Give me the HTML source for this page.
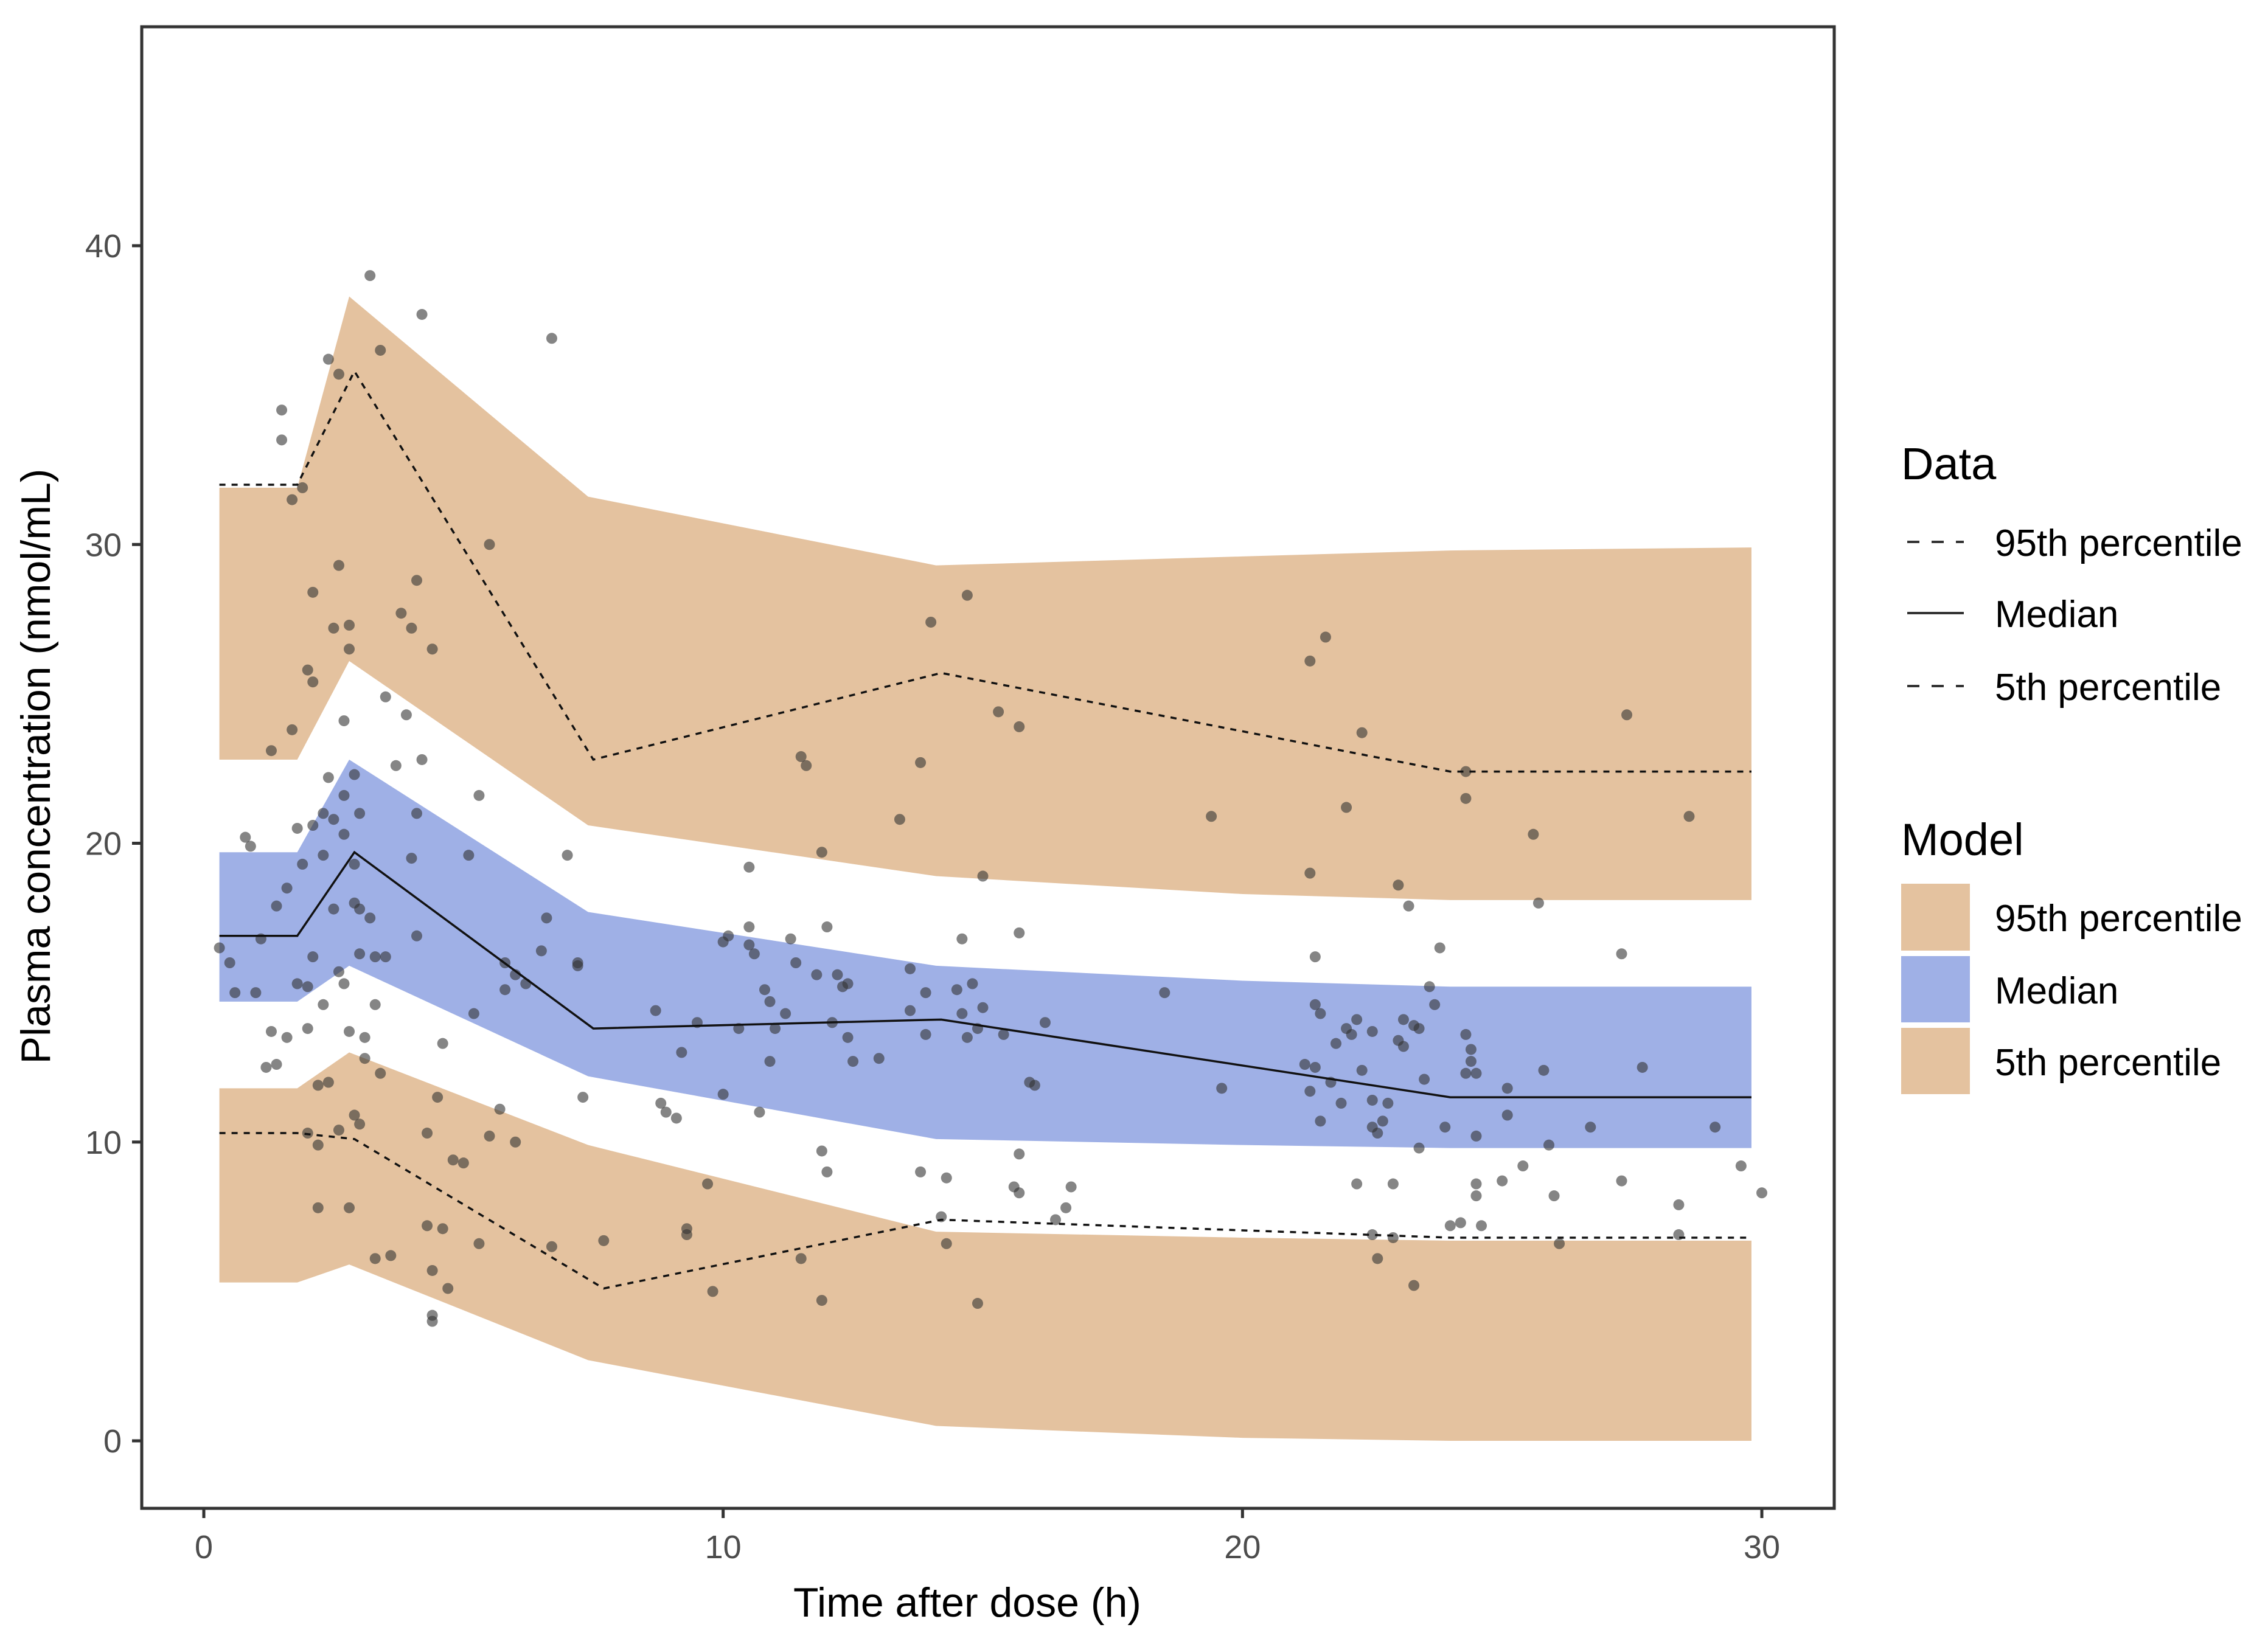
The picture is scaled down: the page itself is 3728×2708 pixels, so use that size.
<!DOCTYPE html>
<html><head><meta charset="utf-8"><style>
html,body{margin:0;padding:0;background:#fff}
svg{display:block;font-family:"Liberation Sans",Arial,sans-serif}
</style></head><body>
<svg id="chart" width="3728" height="2708" viewBox="0 0 3728 2708" xmlns="http://www.w3.org/2000/svg">
<rect width="3728" height="2708" fill="#fff"/>
<g id="bands"></g>
<g id="points"></g>
<g id="lines"></g>
<rect x="233" y="44" width="2782" height="2436" fill="none" stroke="#333" stroke-width="5"/>
<g id="axes"></g>
<text x="1590" y="2658" font-size="68" text-anchor="middle" fill="#000">Time after dose (h)</text>
<text transform="translate(82,1260) rotate(-90)" font-size="68" text-anchor="middle" fill="#000">Plasma concentration (nmol/mL)</text>
<g>
<text x="3125" y="788" font-size="74" fill="#000">Data</text>
<line x1="3135" y1="891" x2="3228" y2="891" stroke="#333" stroke-width="4" stroke-dasharray="20,20"/>
<text x="3279" y="914" font-size="62" fill="#000">95th percentile</text>
<line x1="3135" y1="1008" x2="3228" y2="1008" stroke="#333" stroke-width="4"/>
<text x="3279" y="1031" font-size="62" fill="#000">Median</text>
<line x1="3135" y1="1128" x2="3228" y2="1128" stroke="#333" stroke-width="4" stroke-dasharray="20,20"/>
<text x="3279" y="1151" font-size="62" fill="#000">5th percentile</text>
<text x="3125" y="1406" font-size="74" fill="#000">Model</text>
<rect x="3125" y="1453" width="113" height="110" fill="#E4C29F"/>
<text x="3279" y="1531" font-size="62" fill="#000">95th percentile</text>
<rect x="3125" y="1572" width="113" height="109" fill="#9FB0E6"/>
<text x="3279" y="1650" font-size="62" fill="#000">Median</text>
<rect x="3125" y="1690" width="113" height="109" fill="#E4C29F"/>
<text x="3279" y="1768" font-size="62" fill="#000">5th percentile</text>
</g>
</svg>
<script>
const xTicks=[0,10,20,30];
const yTicks=[0,10,20,30,40];
const bandX=[0.3,1.8,2.8,7.4,14.1,20,24,29.8];
const upHi=[31.9,31.9,38.3,31.6,29.3,29.6,29.8,29.9];
const upLo=[22.8,22.8,26.1,20.6,18.9,18.3,18.1,18.1];
const medHi=[19.7,19.7,22.8,17.7,15.9,15.4,15.2,15.2];
const medLo=[14.7,14.7,15.9,12.2,10.1,9.9,9.8,9.8];
const loHi=[11.8,11.8,13.0,9.9,7.0,6.8,6.7,6.7];
const loLo=[5.3,5.3,5.9,2.7,0.5,0.1,0.0,0.0];
const p95X=[0.3,1.8,2.9,7.5,14.2,24,29.8];
const p95Y=[32,32,35.8,22.8,25.7,22.4,22.4];
const medX=[0.3,1.8,2.9,7.5,14.2,24,29.8];
const medY=[16.9,16.9,19.7,13.8,14.1,11.5,11.5];
const p5X=[0.3,1.8,2.9,7.7,14.2,24,29.8];
const p5Y=[10.3,10.3,10.1,5.1,7.4,6.8,6.8];
const obs=[[0.3,16.5],[0.5,16],[0.6,15],[0.8,20.2],[0.9,19.9],[1,15],[1.1,16.8],[1.2,12.5],[1.3,13.7],[1.3,23.1],[1.4,12.6],[1.4,17.9],[1.5,34.5],[1.5,33.5],[1.6,13.5],[1.6,18.5],[1.7,23.8],[1.7,31.5],[1.8,15.3],[1.8,20.5],[1.9,19.3],[1.9,31.9],[2,25.8],[2,15.2],[2,10.3],[2,13.8],[2.1,20.6],[2.1,28.4],[2.1,25.4],[2.1,16.2],[2.2,11.9],[2.2,9.9],[2.2,7.8],[2.3,14.6],[2.3,21],[2.3,19.6],[2.4,12],[2.4,36.2],[2.4,22.2],[2.5,27.2],[2.5,20.8],[2.5,17.8],[2.6,10.4],[2.6,15.7],[2.6,35.7],[2.6,29.3],[2.7,24.1],[2.7,21.6],[2.7,20.3],[2.7,15.3],[2.8,26.5],[2.8,13.7],[2.8,27.3],[2.8,7.8],[2.9,19.3],[2.9,18],[2.9,22.3],[2.9,10.9],[3,16.3],[3,17.8],[3,21],[3,10.6],[3.1,12.8],[3.1,13.5],[3.2,17.5],[3.2,39],[3.3,16.2],[3.3,14.6],[3.3,6.1],[3.4,36.5],[3.4,12.3],[3.5,24.9],[3.5,16.2],[3.6,6.2],[3.7,22.6],[3.8,27.7],[3.9,24.3],[4,19.5],[4,27.2],[4.1,16.9],[4.1,28.8],[4.1,21],[4.2,37.7],[4.2,22.8],[4.3,10.3],[4.3,7.2],[4.4,26.5],[4.4,5.7],[4.4,4.2],[4.4,4],[4.5,11.5],[4.6,13.3],[4.6,7.1],[4.7,5.1],[4.8,9.4],[5,9.3],[5.1,19.6],[5.2,14.3],[5.3,6.6],[5.3,21.6],[5.5,10.2],[5.5,30],[5.7,11.1],[5.8,15.1],[5.8,16],[6,10],[6,15.6],[6.2,15.3],[6.5,16.4],[6.6,17.5],[6.7,6.5],[6.7,36.9],[7,19.6],[7.2,15.9],[7.2,16],[7.3,11.5],[7.7,6.7],
[8.7,14.4],[8.8,11.3],[8.9,11],[9.1,10.8],[9.2,13],[9.3,6.9],[9.3,7.1],[9.5,14],[9.7,8.6],[9.8,5],[10,11.6],[10,16.7],[10.1,16.9],[10.3,13.8],[10.5,17.2],[10.5,16.6],[10.5,19.2],[10.6,16.3],[10.7,11],[10.8,15.1],[10.9,12.7],[10.9,14.7],[11,13.8],[11.2,14.3],[11.3,16.8],[11.4,16],[11.5,6.1],[11.5,22.9],[11.6,22.6],[11.8,15.6],[11.9,19.7],[11.9,9.7],[11.9,4.7],[12,9],[12,17.2],[12.1,14],[12.2,15.6],[12.3,15.2],[12.4,15.3],[12.4,13.5],[12.5,12.7],[13,12.8],[13.4,20.8],[13.6,14.4],[13.6,15.8],[13.8,9],[13.8,22.7],[13.9,13.6],[13.9,15],[14,27.4],[14.2,7.5],[14.3,8.8],[14.3,6.6],[14.5,15.1],[14.6,16.8],[14.6,14.3],[14.7,28.3],[14.7,13.5],[14.8,15.3],[14.9,13.8],[14.9,4.6],[15,14.5],[15,18.9],[15.3,24.4],[15.4,13.6],[15.6,8.5],[15.7,8.3],[15.7,9.6],[15.7,17],[15.7,23.9],[15.9,12],[16,11.9],[16.2,14],[16.4,7.4],[16.6,7.8],[16.7,8.5],
[18.5,15],[19.4,20.9],[19.6,11.8],[21.2,12.6],[21.3,11.7],[21.3,19],[21.3,26.1],[21.4,12.5],[21.4,14.6],[21.4,16.2],[21.5,10.7],[21.5,14.3],[21.6,26.9],[21.7,12],[21.8,13.3],[21.9,11.3],[22,13.8],[22,21.2],[22.1,13.6],[22.2,8.6],[22.2,14.1],[22.3,23.7],[22.3,12.4],[22.5,11.4],[22.5,13.7],[22.5,6.9],[22.5,10.5],[22.6,10.3],[22.6,6.1],[22.7,10.7],[22.8,11.3],[22.9,6.8],[22.9,8.6],[23,13.4],[23,18.6],[23.1,13.2],[23.1,14.1],[23.2,17.9],[23.3,5.2],[23.3,13.9],[23.4,9.8],[23.4,13.8],[23.5,12.1],[23.6,15.2],[23.7,14.6],[23.8,16.5],[23.9,10.5],[24,7.2],[24.2,7.3],[24.3,12.3],[24.3,22.4],[24.3,21.5],[24.3,13.6],[24.4,13.1],[24.4,12.7],[24.5,12.3],[24.5,10.2],[24.5,8.6],[24.5,8.2],[24.6,7.2],[25,8.7],[25.1,10.9],[25.1,11.8],[25.4,9.2],[25.6,20.3],[25.7,18],[25.8,12.4],[25.9,9.9],[26,8.2],[26.1,6.6],[26.7,10.5],[27.3,8.7],[27.3,16.3],[27.4,24.3],[27.7,12.5],[28.4,7.9],[28.4,6.9],[28.6,20.9],[29.1,10.5],[29.6,9.2],[30,8.3]];

const NS='http://www.w3.org/2000/svg';
function sx(v){return 335+v*(2896-335)/30;}
function sy(v){return 2369-v*(2369-404)/40;}
function mk(tag,attrs,parent){const e=document.createElementNS(NS,tag);for(const k in attrs)e.setAttribute(k,attrs[k]);parent.appendChild(e);return e;}
const bands=document.getElementById('bands');
function band(lo,hi,fill,name){
  let d='M'+bandX.map((x,i)=>sx(x)+','+sy(hi[i])).join('L');
  for(let i=bandX.length-1;i>=0;i--)d+='L'+sx(bandX[i])+','+sy(lo[i]);
  const p=mk('path',{d:d+'Z',fill:fill},bands);
  
  
}
band(upLo,upHi,'#E4C29F','band-95th-percentile');
band(medLo,medHi,'#9FB0E6','band-median');
band(loLo,loHi,'#E4C29F','band-5th-percentile');
const pts=document.getElementById('points');
obs.forEach(o=>{
  const c=mk('circle',{cx:sx(o[0]),cy:sy(o[1]),r:9,fill:'#333','fill-opacity':0.6},pts);
  
  
});
const lines=document.getElementById('lines');
function line(xs,ys,dash,name){
  const a={points:xs.map((x,i)=>sx(x)+','+sy(ys[i])).join(' '),fill:'none',stroke:'#111','stroke-width':3.5};
  if(dash)a['stroke-dasharray']='10,10';
  const p=mk('polyline',a,lines);
  
  
}
line(p95X,p95Y,true,'line-95th-percentile');
line(medX,medY,false,'line-median');
line(p5X,p5Y,true,'line-5th-percentile');
const axes=document.getElementById('axes');
xTicks.forEach(t=>{
  const l=mk('line',{x1:sx(t),x2:sx(t),y1:2482,y2:2496,stroke:'#333','stroke-width':5},axes);
  
  
  const tx=mk('text',{x:sx(t),y:2562,'font-size':54,'text-anchor':'middle',fill:'#4d4d4d'},axes);
  tx.textContent=t;
  
  
});
yTicks.forEach(t=>{
  const l=mk('line',{x1:217,x2:231,y1:sy(t),y2:sy(t),stroke:'#333','stroke-width':5},axes);
  
  
  const tx=mk('text',{x:200,y:sy(t)+19,'font-size':54,'text-anchor':'end',fill:'#4d4d4d'},axes);
  tx.textContent=t;
  
  
});
</script>
</body></html>
